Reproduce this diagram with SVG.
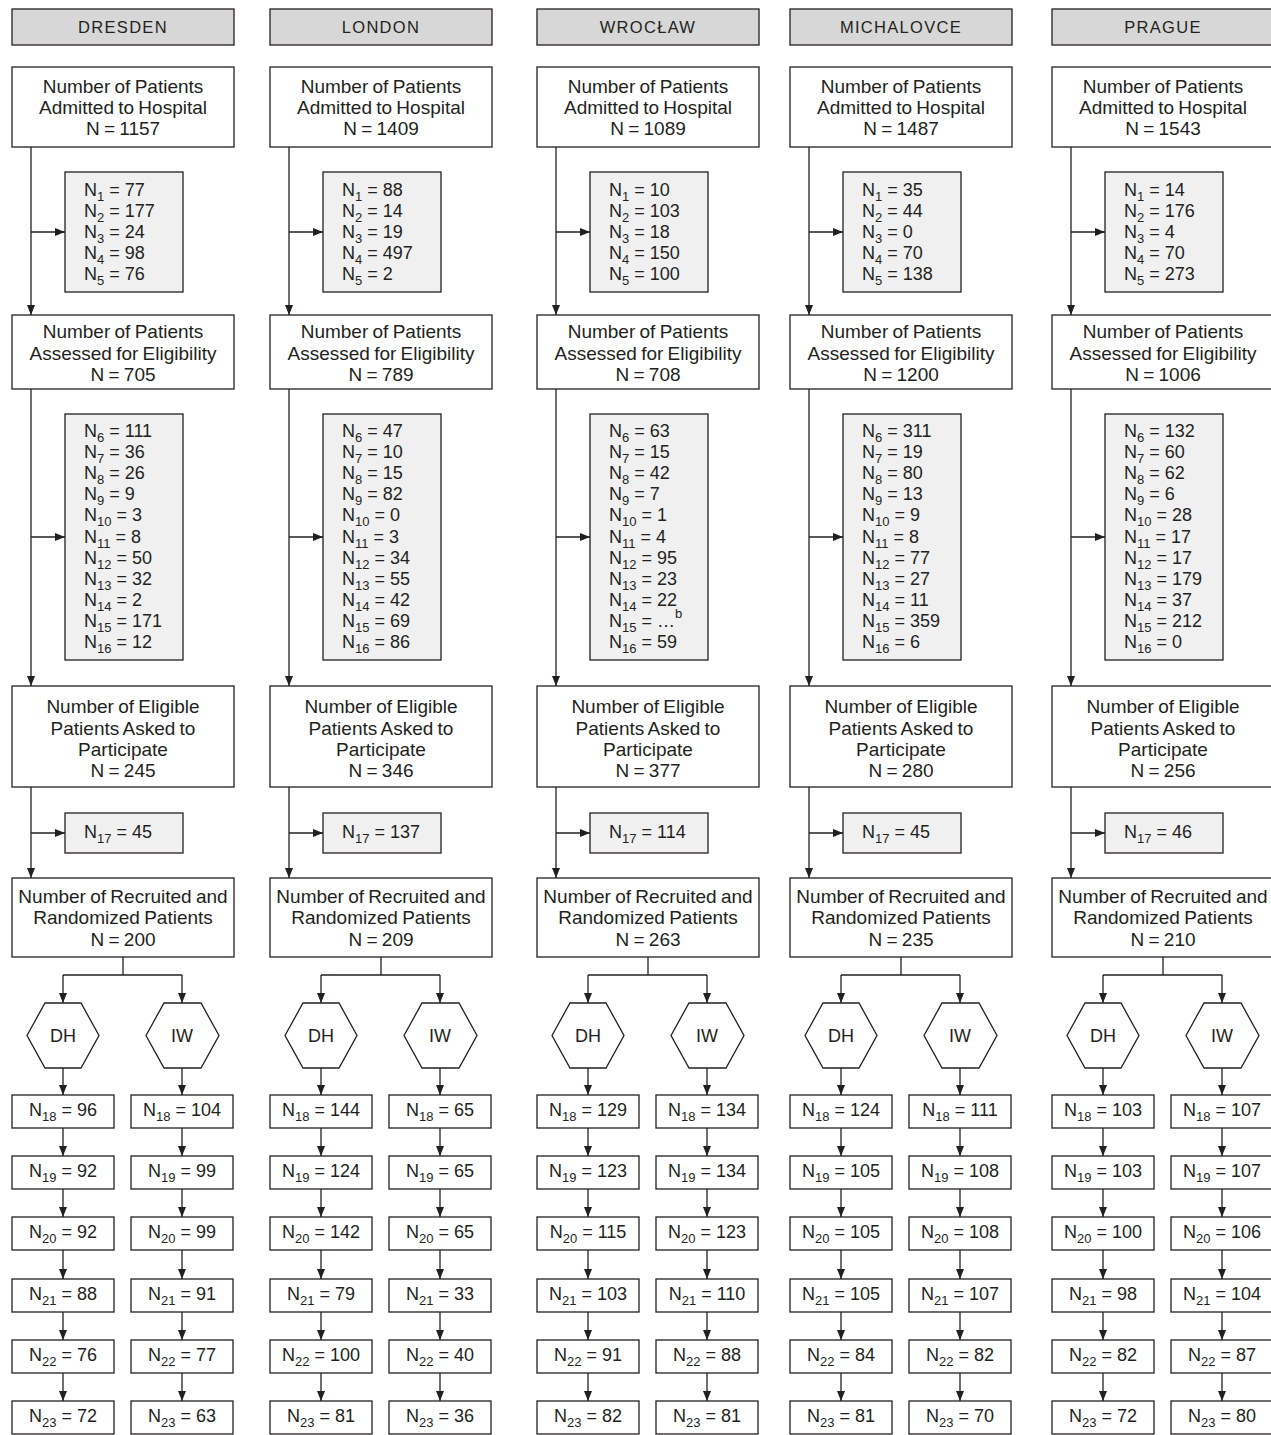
<svg xmlns="http://www.w3.org/2000/svg" width="1271" height="1435" viewBox="0 0 1271 1435">
<style>
text{font-family:"Liberation Sans",Arial,Helvetica,sans-serif;font-size:18px;fill:#231f20}
.c{text-anchor:middle}
.m{font-size:19px;word-spacing:-1px}
.h{font-size:16.5px;letter-spacing:1.3px}
.s{font-size:13px;letter-spacing:0}
rect,polygon{stroke:#231f20;stroke-width:1.3}
.hdr{fill:#d7d7d7}
.box{fill:#ffffff}
.exc{fill:#f0f0f0}
#connectors line,#connectors polyline{stroke:#231f20;stroke-width:1.3;fill:none}
.a{marker-end:url(#arr)}
</style>
<defs>
<marker id="arr" markerUnits="userSpaceOnUse" markerWidth="10" markerHeight="8" refX="10" refY="4" orient="auto">
<path d="M0,0 L10,4 L0,8 z" fill="#231f20"/>
</marker>
</defs>

<g id="connectors">
<g transform="translate(0,0)">
<line class="a" x1="31" y1="147" x2="31" y2="315"/><line class="a" x1="31" y1="232" x2="65" y2="232"/>
<line class="a" x1="31" y1="389" x2="31" y2="686"/><line class="a" x1="31" y1="537" x2="65" y2="537"/>
<line class="a" x1="31" y1="787" x2="31" y2="878"/><line class="a" x1="31" y1="833" x2="65" y2="833"/>
<polyline points="123,957 123,975"/><line x1="63" y1="975" x2="182" y2="975"/>
<line class="a" x1="63" y1="975" x2="63" y2="1003"/><line class="a" x1="182" y1="975" x2="182" y2="1003"/>
<line class="a" x1="63" y1="1068" x2="63" y2="1095"/><line class="a" x1="182" y1="1068" x2="182" y2="1095"/>
<line class="a" x1="63" y1="1128" x2="63" y2="1156"/><line class="a" x1="182" y1="1128" x2="182" y2="1156"/>
<line class="a" x1="63" y1="1189" x2="63" y2="1217"/><line class="a" x1="182" y1="1189" x2="182" y2="1217"/>
<line class="a" x1="63" y1="1250" x2="63" y2="1279"/><line class="a" x1="182" y1="1250" x2="182" y2="1279"/>
<line class="a" x1="63" y1="1312" x2="63" y2="1340"/><line class="a" x1="182" y1="1312" x2="182" y2="1340"/>
<line class="a" x1="63" y1="1373" x2="63" y2="1401"/><line class="a" x1="182" y1="1373" x2="182" y2="1401"/>
</g>
<g transform="translate(258,0)">
<line class="a" x1="31" y1="147" x2="31" y2="315"/><line class="a" x1="31" y1="232" x2="65" y2="232"/>
<line class="a" x1="31" y1="389" x2="31" y2="686"/><line class="a" x1="31" y1="537" x2="65" y2="537"/>
<line class="a" x1="31" y1="787" x2="31" y2="878"/><line class="a" x1="31" y1="833" x2="65" y2="833"/>
<polyline points="123,957 123,975"/><line x1="63" y1="975" x2="182" y2="975"/>
<line class="a" x1="63" y1="975" x2="63" y2="1003"/><line class="a" x1="182" y1="975" x2="182" y2="1003"/>
<line class="a" x1="63" y1="1068" x2="63" y2="1095"/><line class="a" x1="182" y1="1068" x2="182" y2="1095"/>
<line class="a" x1="63" y1="1128" x2="63" y2="1156"/><line class="a" x1="182" y1="1128" x2="182" y2="1156"/>
<line class="a" x1="63" y1="1189" x2="63" y2="1217"/><line class="a" x1="182" y1="1189" x2="182" y2="1217"/>
<line class="a" x1="63" y1="1250" x2="63" y2="1279"/><line class="a" x1="182" y1="1250" x2="182" y2="1279"/>
<line class="a" x1="63" y1="1312" x2="63" y2="1340"/><line class="a" x1="182" y1="1312" x2="182" y2="1340"/>
<line class="a" x1="63" y1="1373" x2="63" y2="1401"/><line class="a" x1="182" y1="1373" x2="182" y2="1401"/>
</g>
<g transform="translate(525,0)">
<line class="a" x1="31" y1="147" x2="31" y2="315"/><line class="a" x1="31" y1="232" x2="65" y2="232"/>
<line class="a" x1="31" y1="389" x2="31" y2="686"/><line class="a" x1="31" y1="537" x2="65" y2="537"/>
<line class="a" x1="31" y1="787" x2="31" y2="878"/><line class="a" x1="31" y1="833" x2="65" y2="833"/>
<polyline points="123,957 123,975"/><line x1="63" y1="975" x2="182" y2="975"/>
<line class="a" x1="63" y1="975" x2="63" y2="1003"/><line class="a" x1="182" y1="975" x2="182" y2="1003"/>
<line class="a" x1="63" y1="1068" x2="63" y2="1095"/><line class="a" x1="182" y1="1068" x2="182" y2="1095"/>
<line class="a" x1="63" y1="1128" x2="63" y2="1156"/><line class="a" x1="182" y1="1128" x2="182" y2="1156"/>
<line class="a" x1="63" y1="1189" x2="63" y2="1217"/><line class="a" x1="182" y1="1189" x2="182" y2="1217"/>
<line class="a" x1="63" y1="1250" x2="63" y2="1279"/><line class="a" x1="182" y1="1250" x2="182" y2="1279"/>
<line class="a" x1="63" y1="1312" x2="63" y2="1340"/><line class="a" x1="182" y1="1312" x2="182" y2="1340"/>
<line class="a" x1="63" y1="1373" x2="63" y2="1401"/><line class="a" x1="182" y1="1373" x2="182" y2="1401"/>
</g>
<g transform="translate(778,0)">
<line class="a" x1="31" y1="147" x2="31" y2="315"/><line class="a" x1="31" y1="232" x2="65" y2="232"/>
<line class="a" x1="31" y1="389" x2="31" y2="686"/><line class="a" x1="31" y1="537" x2="65" y2="537"/>
<line class="a" x1="31" y1="787" x2="31" y2="878"/><line class="a" x1="31" y1="833" x2="65" y2="833"/>
<polyline points="123,957 123,975"/><line x1="63" y1="975" x2="182" y2="975"/>
<line class="a" x1="63" y1="975" x2="63" y2="1003"/><line class="a" x1="182" y1="975" x2="182" y2="1003"/>
<line class="a" x1="63" y1="1068" x2="63" y2="1095"/><line class="a" x1="182" y1="1068" x2="182" y2="1095"/>
<line class="a" x1="63" y1="1128" x2="63" y2="1156"/><line class="a" x1="182" y1="1128" x2="182" y2="1156"/>
<line class="a" x1="63" y1="1189" x2="63" y2="1217"/><line class="a" x1="182" y1="1189" x2="182" y2="1217"/>
<line class="a" x1="63" y1="1250" x2="63" y2="1279"/><line class="a" x1="182" y1="1250" x2="182" y2="1279"/>
<line class="a" x1="63" y1="1312" x2="63" y2="1340"/><line class="a" x1="182" y1="1312" x2="182" y2="1340"/>
<line class="a" x1="63" y1="1373" x2="63" y2="1401"/><line class="a" x1="182" y1="1373" x2="182" y2="1401"/>
</g>
<g transform="translate(1040,0)">
<line class="a" x1="31" y1="147" x2="31" y2="315"/><line class="a" x1="31" y1="232" x2="65" y2="232"/>
<line class="a" x1="31" y1="389" x2="31" y2="686"/><line class="a" x1="31" y1="537" x2="65" y2="537"/>
<line class="a" x1="31" y1="787" x2="31" y2="878"/><line class="a" x1="31" y1="833" x2="65" y2="833"/>
<polyline points="123,957 123,975"/><line x1="63" y1="975" x2="182" y2="975"/>
<line class="a" x1="63" y1="975" x2="63" y2="1003"/><line class="a" x1="182" y1="975" x2="182" y2="1003"/>
<line class="a" x1="63" y1="1068" x2="63" y2="1095"/><line class="a" x1="182" y1="1068" x2="182" y2="1095"/>
<line class="a" x1="63" y1="1128" x2="63" y2="1156"/><line class="a" x1="182" y1="1128" x2="182" y2="1156"/>
<line class="a" x1="63" y1="1189" x2="63" y2="1217"/><line class="a" x1="182" y1="1189" x2="182" y2="1217"/>
<line class="a" x1="63" y1="1250" x2="63" y2="1279"/><line class="a" x1="182" y1="1250" x2="182" y2="1279"/>
<line class="a" x1="63" y1="1312" x2="63" y2="1340"/><line class="a" x1="182" y1="1312" x2="182" y2="1340"/>
<line class="a" x1="63" y1="1373" x2="63" y2="1401"/><line class="a" x1="182" y1="1373" x2="182" y2="1401"/>
</g>
</g>

<!-- DRESDEN -->
<g id="col-dresden" transform="translate(0,0)">
<g id="dresden-header"><rect class="hdr" x="12" y="9" width="222" height="36"/><text class="c h" x="123" y="33">DRESDEN</text></g>
<g id="dresden-admitted"><rect class="box" x="12" y="67" width="222" height="80"/><text class="c m" x="123" y="93">Number of Patients</text><text class="c m" x="123" y="114">Admitted to Hospital</text><text class="c m" x="123" y="135">N = 1157</text></g>
<g id="dresden-excl1"><rect class="exc" x="65" y="172" width="118" height="120"/>
<text x="84" y="196">N<tspan class="s" dy="5">1</tspan><tspan dy="-5"> = 77</tspan></text>
<text x="84" y="217">N<tspan class="s" dy="5">2</tspan><tspan dy="-5"> = 177</tspan></text>
<text x="84" y="238">N<tspan class="s" dy="5">3</tspan><tspan dy="-5"> = 24</tspan></text>
<text x="84" y="259">N<tspan class="s" dy="5">4</tspan><tspan dy="-5"> = 98</tspan></text>
<text x="84" y="280">N<tspan class="s" dy="5">5</tspan><tspan dy="-5"> = 76</tspan></text></g>
<g id="dresden-assessed"><rect class="box" x="12" y="315" width="222" height="74"/><text class="c m" x="123" y="338">Number of Patients</text><text class="c m" x="123" y="359.5">Assessed for Eligibility</text><text class="c m" x="123" y="381">N = 705</text></g>
<g id="dresden-excl2"><rect class="exc" x="65" y="414" width="118" height="246"/>
<text x="84" y="437">N<tspan class="s" dy="5">6</tspan><tspan dy="-5"> = 111</tspan></text>
<text x="84" y="458.1">N<tspan class="s" dy="5">7</tspan><tspan dy="-5"> = 36</tspan></text>
<text x="84" y="479.2">N<tspan class="s" dy="5">8</tspan><tspan dy="-5"> = 26</tspan></text>
<text x="84" y="500.3">N<tspan class="s" dy="5">9</tspan><tspan dy="-5"> = 9</tspan></text>
<text x="84" y="521.4">N<tspan class="s" dy="5">10</tspan><tspan dy="-5"> = 3</tspan></text>
<text x="84" y="542.5">N<tspan class="s" dy="5">11</tspan><tspan dy="-5"> = 8</tspan></text>
<text x="84" y="563.6">N<tspan class="s" dy="5">12</tspan><tspan dy="-5"> = 50</tspan></text>
<text x="84" y="584.7">N<tspan class="s" dy="5">13</tspan><tspan dy="-5"> = 32</tspan></text>
<text x="84" y="605.8">N<tspan class="s" dy="5">14</tspan><tspan dy="-5"> = 2</tspan></text>
<text x="84" y="626.9">N<tspan class="s" dy="5">15</tspan><tspan dy="-5"> = 171</tspan></text>
<text x="84" y="648">N<tspan class="s" dy="5">16</tspan><tspan dy="-5"> = 12</tspan></text></g>
<g id="dresden-asked"><rect class="box" x="12" y="686" width="222" height="101"/><text class="c m" x="123" y="713">Number of Eligible</text><text class="c m" x="123" y="734.5">Patients Asked to</text><text class="c m" x="123" y="756">Participate</text><text class="c m" x="123" y="777">N = 245</text></g>
<g id="dresden-excl3"><rect class="exc" x="65" y="813" width="118" height="40"/><text x="84" y="838">N<tspan class="s" dy="5">17</tspan><tspan dy="-5"> = 45</tspan></text></g>
<g id="dresden-randomized"><rect class="box" x="12" y="878" width="222" height="79"/><text class="c m" x="123" y="902.5">Number of Recruited and</text><text class="c m" x="123" y="924">Randomized Patients</text><text class="c m" x="123" y="946">N = 200</text></g>
<g id="dresden-dh"><polygon class="box" points="27,1035.5 45,1003 81,1003 99,1035.5 81,1068 45,1068"/><text class="c" x="63" y="1042">DH</text></g>
<g id="dresden-iw"><polygon class="box" points="146,1035.5 164,1003 201,1003 219,1035.5 201,1068 164,1068"/><text class="c" x="182" y="1042">IW</text></g>
<g id="dresden-dh-n18"><rect class="box" x="12" y="1095" width="102" height="33"/><text class="c" x="63" y="1116">N<tspan class="s" dy="5">18</tspan><tspan dy="-5"> = 96</tspan></text></g>
<g id="dresden-dh-n19"><rect class="box" x="12" y="1156" width="102" height="33"/><text class="c" x="63" y="1177">N<tspan class="s" dy="5">19</tspan><tspan dy="-5"> = 92</tspan></text></g>
<g id="dresden-dh-n20"><rect class="box" x="12" y="1217" width="102" height="33"/><text class="c" x="63" y="1238">N<tspan class="s" dy="5">20</tspan><tspan dy="-5"> = 92</tspan></text></g>
<g id="dresden-dh-n21"><rect class="box" x="12" y="1279" width="102" height="33"/><text class="c" x="63" y="1300">N<tspan class="s" dy="5">21</tspan><tspan dy="-5"> = 88</tspan></text></g>
<g id="dresden-dh-n22"><rect class="box" x="12" y="1340" width="102" height="33"/><text class="c" x="63" y="1361">N<tspan class="s" dy="5">22</tspan><tspan dy="-5"> = 76</tspan></text></g>
<g id="dresden-dh-n23"><rect class="box" x="12" y="1401" width="102" height="33"/><text class="c" x="63" y="1422">N<tspan class="s" dy="5">23</tspan><tspan dy="-5"> = 72</tspan></text></g>
<g id="dresden-iw-n18"><rect class="box" x="131" y="1095" width="102" height="33"/><text class="c" x="182" y="1116">N<tspan class="s" dy="5">18</tspan><tspan dy="-5"> = 104</tspan></text></g>
<g id="dresden-iw-n19"><rect class="box" x="131" y="1156" width="102" height="33"/><text class="c" x="182" y="1177">N<tspan class="s" dy="5">19</tspan><tspan dy="-5"> = 99</tspan></text></g>
<g id="dresden-iw-n20"><rect class="box" x="131" y="1217" width="102" height="33"/><text class="c" x="182" y="1238">N<tspan class="s" dy="5">20</tspan><tspan dy="-5"> = 99</tspan></text></g>
<g id="dresden-iw-n21"><rect class="box" x="131" y="1279" width="102" height="33"/><text class="c" x="182" y="1300">N<tspan class="s" dy="5">21</tspan><tspan dy="-5"> = 91</tspan></text></g>
<g id="dresden-iw-n22"><rect class="box" x="131" y="1340" width="102" height="33"/><text class="c" x="182" y="1361">N<tspan class="s" dy="5">22</tspan><tspan dy="-5"> = 77</tspan></text></g>
<g id="dresden-iw-n23"><rect class="box" x="131" y="1401" width="102" height="33"/><text class="c" x="182" y="1422">N<tspan class="s" dy="5">23</tspan><tspan dy="-5"> = 63</tspan></text></g>
</g>

<!-- LONDON -->
<g id="col-london" transform="translate(258,0)">
<g id="london-header"><rect class="hdr" x="12" y="9" width="222" height="36"/><text class="c h" x="123" y="33">LONDON</text></g>
<g id="london-admitted"><rect class="box" x="12" y="67" width="222" height="80"/><text class="c m" x="123" y="93">Number of Patients</text><text class="c m" x="123" y="114">Admitted to Hospital</text><text class="c m" x="123" y="135">N = 1409</text></g>
<g id="london-excl1"><rect class="exc" x="65" y="172" width="118" height="120"/>
<text x="84" y="196">N<tspan class="s" dy="5">1</tspan><tspan dy="-5"> = 88</tspan></text>
<text x="84" y="217">N<tspan class="s" dy="5">2</tspan><tspan dy="-5"> = 14</tspan></text>
<text x="84" y="238">N<tspan class="s" dy="5">3</tspan><tspan dy="-5"> = 19</tspan></text>
<text x="84" y="259">N<tspan class="s" dy="5">4</tspan><tspan dy="-5"> = 497</tspan></text>
<text x="84" y="280">N<tspan class="s" dy="5">5</tspan><tspan dy="-5"> = 2</tspan></text></g>
<g id="london-assessed"><rect class="box" x="12" y="315" width="222" height="74"/><text class="c m" x="123" y="338">Number of Patients</text><text class="c m" x="123" y="359.5">Assessed for Eligibility</text><text class="c m" x="123" y="381">N = 789</text></g>
<g id="london-excl2"><rect class="exc" x="65" y="414" width="118" height="246"/>
<text x="84" y="437">N<tspan class="s" dy="5">6</tspan><tspan dy="-5"> = 47</tspan></text>
<text x="84" y="458.1">N<tspan class="s" dy="5">7</tspan><tspan dy="-5"> = 10</tspan></text>
<text x="84" y="479.2">N<tspan class="s" dy="5">8</tspan><tspan dy="-5"> = 15</tspan></text>
<text x="84" y="500.3">N<tspan class="s" dy="5">9</tspan><tspan dy="-5"> = 82</tspan></text>
<text x="84" y="521.4">N<tspan class="s" dy="5">10</tspan><tspan dy="-5"> = 0</tspan></text>
<text x="84" y="542.5">N<tspan class="s" dy="5">11</tspan><tspan dy="-5"> = 3</tspan></text>
<text x="84" y="563.6">N<tspan class="s" dy="5">12</tspan><tspan dy="-5"> = 34</tspan></text>
<text x="84" y="584.7">N<tspan class="s" dy="5">13</tspan><tspan dy="-5"> = 55</tspan></text>
<text x="84" y="605.8">N<tspan class="s" dy="5">14</tspan><tspan dy="-5"> = 42</tspan></text>
<text x="84" y="626.9">N<tspan class="s" dy="5">15</tspan><tspan dy="-5"> = 69</tspan></text>
<text x="84" y="648">N<tspan class="s" dy="5">16</tspan><tspan dy="-5"> = 86</tspan></text></g>
<g id="london-asked"><rect class="box" x="12" y="686" width="222" height="101"/><text class="c m" x="123" y="713">Number of Eligible</text><text class="c m" x="123" y="734.5">Patients Asked to</text><text class="c m" x="123" y="756">Participate</text><text class="c m" x="123" y="777">N = 346</text></g>
<g id="london-excl3"><rect class="exc" x="65" y="813" width="118" height="40"/><text x="84" y="838">N<tspan class="s" dy="5">17</tspan><tspan dy="-5"> = 137</tspan></text></g>
<g id="london-randomized"><rect class="box" x="12" y="878" width="222" height="79"/><text class="c m" x="123" y="902.5">Number of Recruited and</text><text class="c m" x="123" y="924">Randomized Patients</text><text class="c m" x="123" y="946">N = 209</text></g>
<g id="london-dh"><polygon class="box" points="27,1035.5 45,1003 81,1003 99,1035.5 81,1068 45,1068"/><text class="c" x="63" y="1042">DH</text></g>
<g id="london-iw"><polygon class="box" points="146,1035.5 164,1003 201,1003 219,1035.5 201,1068 164,1068"/><text class="c" x="182" y="1042">IW</text></g>
<g id="london-dh-n18"><rect class="box" x="12" y="1095" width="102" height="33"/><text class="c" x="63" y="1116">N<tspan class="s" dy="5">18</tspan><tspan dy="-5"> = 144</tspan></text></g>
<g id="london-dh-n19"><rect class="box" x="12" y="1156" width="102" height="33"/><text class="c" x="63" y="1177">N<tspan class="s" dy="5">19</tspan><tspan dy="-5"> = 124</tspan></text></g>
<g id="london-dh-n20"><rect class="box" x="12" y="1217" width="102" height="33"/><text class="c" x="63" y="1238">N<tspan class="s" dy="5">20</tspan><tspan dy="-5"> = 142</tspan></text></g>
<g id="london-dh-n21"><rect class="box" x="12" y="1279" width="102" height="33"/><text class="c" x="63" y="1300">N<tspan class="s" dy="5">21</tspan><tspan dy="-5"> = 79</tspan></text></g>
<g id="london-dh-n22"><rect class="box" x="12" y="1340" width="102" height="33"/><text class="c" x="63" y="1361">N<tspan class="s" dy="5">22</tspan><tspan dy="-5"> = 100</tspan></text></g>
<g id="london-dh-n23"><rect class="box" x="12" y="1401" width="102" height="33"/><text class="c" x="63" y="1422">N<tspan class="s" dy="5">23</tspan><tspan dy="-5"> = 81</tspan></text></g>
<g id="london-iw-n18"><rect class="box" x="131" y="1095" width="102" height="33"/><text class="c" x="182" y="1116">N<tspan class="s" dy="5">18</tspan><tspan dy="-5"> = 65</tspan></text></g>
<g id="london-iw-n19"><rect class="box" x="131" y="1156" width="102" height="33"/><text class="c" x="182" y="1177">N<tspan class="s" dy="5">19</tspan><tspan dy="-5"> = 65</tspan></text></g>
<g id="london-iw-n20"><rect class="box" x="131" y="1217" width="102" height="33"/><text class="c" x="182" y="1238">N<tspan class="s" dy="5">20</tspan><tspan dy="-5"> = 65</tspan></text></g>
<g id="london-iw-n21"><rect class="box" x="131" y="1279" width="102" height="33"/><text class="c" x="182" y="1300">N<tspan class="s" dy="5">21</tspan><tspan dy="-5"> = 33</tspan></text></g>
<g id="london-iw-n22"><rect class="box" x="131" y="1340" width="102" height="33"/><text class="c" x="182" y="1361">N<tspan class="s" dy="5">22</tspan><tspan dy="-5"> = 40</tspan></text></g>
<g id="london-iw-n23"><rect class="box" x="131" y="1401" width="102" height="33"/><text class="c" x="182" y="1422">N<tspan class="s" dy="5">23</tspan><tspan dy="-5"> = 36</tspan></text></g>
</g>

<!-- WROCLAW -->
<g id="col-wroclaw" transform="translate(525,0)">
<g id="wroclaw-header"><rect class="hdr" x="12" y="9" width="222" height="36"/><text class="c h" x="123" y="33">WROCŁAW</text></g>
<g id="wroclaw-admitted"><rect class="box" x="12" y="67" width="222" height="80"/><text class="c m" x="123" y="93">Number of Patients</text><text class="c m" x="123" y="114">Admitted to Hospital</text><text class="c m" x="123" y="135">N = 1089</text></g>
<g id="wroclaw-excl1"><rect class="exc" x="65" y="172" width="118" height="120"/>
<text x="84" y="196">N<tspan class="s" dy="5">1</tspan><tspan dy="-5"> = 10</tspan></text>
<text x="84" y="217">N<tspan class="s" dy="5">2</tspan><tspan dy="-5"> = 103</tspan></text>
<text x="84" y="238">N<tspan class="s" dy="5">3</tspan><tspan dy="-5"> = 18</tspan></text>
<text x="84" y="259">N<tspan class="s" dy="5">4</tspan><tspan dy="-5"> = 150</tspan></text>
<text x="84" y="280">N<tspan class="s" dy="5">5</tspan><tspan dy="-5"> = 100</tspan></text></g>
<g id="wroclaw-assessed"><rect class="box" x="12" y="315" width="222" height="74"/><text class="c m" x="123" y="338">Number of Patients</text><text class="c m" x="123" y="359.5">Assessed for Eligibility</text><text class="c m" x="123" y="381">N = 708</text></g>
<g id="wroclaw-excl2"><rect class="exc" x="65" y="414" width="118" height="246"/>
<text x="84" y="437">N<tspan class="s" dy="5">6</tspan><tspan dy="-5"> = 63</tspan></text>
<text x="84" y="458.1">N<tspan class="s" dy="5">7</tspan><tspan dy="-5"> = 15</tspan></text>
<text x="84" y="479.2">N<tspan class="s" dy="5">8</tspan><tspan dy="-5"> = 42</tspan></text>
<text x="84" y="500.3">N<tspan class="s" dy="5">9</tspan><tspan dy="-5"> = 7</tspan></text>
<text x="84" y="521.4">N<tspan class="s" dy="5">10</tspan><tspan dy="-5"> = 1</tspan></text>
<text x="84" y="542.5">N<tspan class="s" dy="5">11</tspan><tspan dy="-5"> = 4</tspan></text>
<text x="84" y="563.6">N<tspan class="s" dy="5">12</tspan><tspan dy="-5"> = 95</tspan></text>
<text x="84" y="584.7">N<tspan class="s" dy="5">13</tspan><tspan dy="-5"> = 23</tspan></text>
<text x="84" y="605.8">N<tspan class="s" dy="5">14</tspan><tspan dy="-5"> = 22</tspan></text>
<text x="84" y="626.9">N<tspan class="s" dy="5">15</tspan><tspan dy="-5"> = …</tspan><tspan class="s" dy="-9">b</tspan></text>
<text x="84" y="648">N<tspan class="s" dy="5">16</tspan><tspan dy="-5"> = 59</tspan></text></g>
<g id="wroclaw-asked"><rect class="box" x="12" y="686" width="222" height="101"/><text class="c m" x="123" y="713">Number of Eligible</text><text class="c m" x="123" y="734.5">Patients Asked to</text><text class="c m" x="123" y="756">Participate</text><text class="c m" x="123" y="777">N = 377</text></g>
<g id="wroclaw-excl3"><rect class="exc" x="65" y="813" width="118" height="40"/><text x="84" y="838">N<tspan class="s" dy="5">17</tspan><tspan dy="-5"> = 114</tspan></text></g>
<g id="wroclaw-randomized"><rect class="box" x="12" y="878" width="222" height="79"/><text class="c m" x="123" y="902.5">Number of Recruited and</text><text class="c m" x="123" y="924">Randomized Patients</text><text class="c m" x="123" y="946">N = 263</text></g>
<g id="wroclaw-dh"><polygon class="box" points="27,1035.5 45,1003 81,1003 99,1035.5 81,1068 45,1068"/><text class="c" x="63" y="1042">DH</text></g>
<g id="wroclaw-iw"><polygon class="box" points="146,1035.5 164,1003 201,1003 219,1035.5 201,1068 164,1068"/><text class="c" x="182" y="1042">IW</text></g>
<g id="wroclaw-dh-n18"><rect class="box" x="12" y="1095" width="102" height="33"/><text class="c" x="63" y="1116">N<tspan class="s" dy="5">18</tspan><tspan dy="-5"> = 129</tspan></text></g>
<g id="wroclaw-dh-n19"><rect class="box" x="12" y="1156" width="102" height="33"/><text class="c" x="63" y="1177">N<tspan class="s" dy="5">19</tspan><tspan dy="-5"> = 123</tspan></text></g>
<g id="wroclaw-dh-n20"><rect class="box" x="12" y="1217" width="102" height="33"/><text class="c" x="63" y="1238">N<tspan class="s" dy="5">20</tspan><tspan dy="-5"> = 115</tspan></text></g>
<g id="wroclaw-dh-n21"><rect class="box" x="12" y="1279" width="102" height="33"/><text class="c" x="63" y="1300">N<tspan class="s" dy="5">21</tspan><tspan dy="-5"> = 103</tspan></text></g>
<g id="wroclaw-dh-n22"><rect class="box" x="12" y="1340" width="102" height="33"/><text class="c" x="63" y="1361">N<tspan class="s" dy="5">22</tspan><tspan dy="-5"> = 91</tspan></text></g>
<g id="wroclaw-dh-n23"><rect class="box" x="12" y="1401" width="102" height="33"/><text class="c" x="63" y="1422">N<tspan class="s" dy="5">23</tspan><tspan dy="-5"> = 82</tspan></text></g>
<g id="wroclaw-iw-n18"><rect class="box" x="131" y="1095" width="102" height="33"/><text class="c" x="182" y="1116">N<tspan class="s" dy="5">18</tspan><tspan dy="-5"> = 134</tspan></text></g>
<g id="wroclaw-iw-n19"><rect class="box" x="131" y="1156" width="102" height="33"/><text class="c" x="182" y="1177">N<tspan class="s" dy="5">19</tspan><tspan dy="-5"> = 134</tspan></text></g>
<g id="wroclaw-iw-n20"><rect class="box" x="131" y="1217" width="102" height="33"/><text class="c" x="182" y="1238">N<tspan class="s" dy="5">20</tspan><tspan dy="-5"> = 123</tspan></text></g>
<g id="wroclaw-iw-n21"><rect class="box" x="131" y="1279" width="102" height="33"/><text class="c" x="182" y="1300">N<tspan class="s" dy="5">21</tspan><tspan dy="-5"> = 110</tspan></text></g>
<g id="wroclaw-iw-n22"><rect class="box" x="131" y="1340" width="102" height="33"/><text class="c" x="182" y="1361">N<tspan class="s" dy="5">22</tspan><tspan dy="-5"> = 88</tspan></text></g>
<g id="wroclaw-iw-n23"><rect class="box" x="131" y="1401" width="102" height="33"/><text class="c" x="182" y="1422">N<tspan class="s" dy="5">23</tspan><tspan dy="-5"> = 81</tspan></text></g>
</g>

<!-- MICHALOVCE -->
<g id="col-michalovce" transform="translate(778,0)">
<g id="michalovce-header"><rect class="hdr" x="12" y="9" width="222" height="36"/><text class="c h" x="123" y="33">MICHALOVCE</text></g>
<g id="michalovce-admitted"><rect class="box" x="12" y="67" width="222" height="80"/><text class="c m" x="123" y="93">Number of Patients</text><text class="c m" x="123" y="114">Admitted to Hospital</text><text class="c m" x="123" y="135">N = 1487</text></g>
<g id="michalovce-excl1"><rect class="exc" x="65" y="172" width="118" height="120"/>
<text x="84" y="196">N<tspan class="s" dy="5">1</tspan><tspan dy="-5"> = 35</tspan></text>
<text x="84" y="217">N<tspan class="s" dy="5">2</tspan><tspan dy="-5"> = 44</tspan></text>
<text x="84" y="238">N<tspan class="s" dy="5">3</tspan><tspan dy="-5"> = 0</tspan></text>
<text x="84" y="259">N<tspan class="s" dy="5">4</tspan><tspan dy="-5"> = 70</tspan></text>
<text x="84" y="280">N<tspan class="s" dy="5">5</tspan><tspan dy="-5"> = 138</tspan></text></g>
<g id="michalovce-assessed"><rect class="box" x="12" y="315" width="222" height="74"/><text class="c m" x="123" y="338">Number of Patients</text><text class="c m" x="123" y="359.5">Assessed for Eligibility</text><text class="c m" x="123" y="381">N = 1200</text></g>
<g id="michalovce-excl2"><rect class="exc" x="65" y="414" width="118" height="246"/>
<text x="84" y="437">N<tspan class="s" dy="5">6</tspan><tspan dy="-5"> = 311</tspan></text>
<text x="84" y="458.1">N<tspan class="s" dy="5">7</tspan><tspan dy="-5"> = 19</tspan></text>
<text x="84" y="479.2">N<tspan class="s" dy="5">8</tspan><tspan dy="-5"> = 80</tspan></text>
<text x="84" y="500.3">N<tspan class="s" dy="5">9</tspan><tspan dy="-5"> = 13</tspan></text>
<text x="84" y="521.4">N<tspan class="s" dy="5">10</tspan><tspan dy="-5"> = 9</tspan></text>
<text x="84" y="542.5">N<tspan class="s" dy="5">11</tspan><tspan dy="-5"> = 8</tspan></text>
<text x="84" y="563.6">N<tspan class="s" dy="5">12</tspan><tspan dy="-5"> = 77</tspan></text>
<text x="84" y="584.7">N<tspan class="s" dy="5">13</tspan><tspan dy="-5"> = 27</tspan></text>
<text x="84" y="605.8">N<tspan class="s" dy="5">14</tspan><tspan dy="-5"> = 11</tspan></text>
<text x="84" y="626.9">N<tspan class="s" dy="5">15</tspan><tspan dy="-5"> = 359</tspan></text>
<text x="84" y="648">N<tspan class="s" dy="5">16</tspan><tspan dy="-5"> = 6</tspan></text></g>
<g id="michalovce-asked"><rect class="box" x="12" y="686" width="222" height="101"/><text class="c m" x="123" y="713">Number of Eligible</text><text class="c m" x="123" y="734.5">Patients Asked to</text><text class="c m" x="123" y="756">Participate</text><text class="c m" x="123" y="777">N = 280</text></g>
<g id="michalovce-excl3"><rect class="exc" x="65" y="813" width="118" height="40"/><text x="84" y="838">N<tspan class="s" dy="5">17</tspan><tspan dy="-5"> = 45</tspan></text></g>
<g id="michalovce-randomized"><rect class="box" x="12" y="878" width="222" height="79"/><text class="c m" x="123" y="902.5">Number of Recruited and</text><text class="c m" x="123" y="924">Randomized Patients</text><text class="c m" x="123" y="946">N = 235</text></g>
<g id="michalovce-dh"><polygon class="box" points="27,1035.5 45,1003 81,1003 99,1035.5 81,1068 45,1068"/><text class="c" x="63" y="1042">DH</text></g>
<g id="michalovce-iw"><polygon class="box" points="146,1035.5 164,1003 201,1003 219,1035.5 201,1068 164,1068"/><text class="c" x="182" y="1042">IW</text></g>
<g id="michalovce-dh-n18"><rect class="box" x="12" y="1095" width="102" height="33"/><text class="c" x="63" y="1116">N<tspan class="s" dy="5">18</tspan><tspan dy="-5"> = 124</tspan></text></g>
<g id="michalovce-dh-n19"><rect class="box" x="12" y="1156" width="102" height="33"/><text class="c" x="63" y="1177">N<tspan class="s" dy="5">19</tspan><tspan dy="-5"> = 105</tspan></text></g>
<g id="michalovce-dh-n20"><rect class="box" x="12" y="1217" width="102" height="33"/><text class="c" x="63" y="1238">N<tspan class="s" dy="5">20</tspan><tspan dy="-5"> = 105</tspan></text></g>
<g id="michalovce-dh-n21"><rect class="box" x="12" y="1279" width="102" height="33"/><text class="c" x="63" y="1300">N<tspan class="s" dy="5">21</tspan><tspan dy="-5"> = 105</tspan></text></g>
<g id="michalovce-dh-n22"><rect class="box" x="12" y="1340" width="102" height="33"/><text class="c" x="63" y="1361">N<tspan class="s" dy="5">22</tspan><tspan dy="-5"> = 84</tspan></text></g>
<g id="michalovce-dh-n23"><rect class="box" x="12" y="1401" width="102" height="33"/><text class="c" x="63" y="1422">N<tspan class="s" dy="5">23</tspan><tspan dy="-5"> = 81</tspan></text></g>
<g id="michalovce-iw-n18"><rect class="box" x="131" y="1095" width="102" height="33"/><text class="c" x="182" y="1116">N<tspan class="s" dy="5">18</tspan><tspan dy="-5"> = 111</tspan></text></g>
<g id="michalovce-iw-n19"><rect class="box" x="131" y="1156" width="102" height="33"/><text class="c" x="182" y="1177">N<tspan class="s" dy="5">19</tspan><tspan dy="-5"> = 108</tspan></text></g>
<g id="michalovce-iw-n20"><rect class="box" x="131" y="1217" width="102" height="33"/><text class="c" x="182" y="1238">N<tspan class="s" dy="5">20</tspan><tspan dy="-5"> = 108</tspan></text></g>
<g id="michalovce-iw-n21"><rect class="box" x="131" y="1279" width="102" height="33"/><text class="c" x="182" y="1300">N<tspan class="s" dy="5">21</tspan><tspan dy="-5"> = 107</tspan></text></g>
<g id="michalovce-iw-n22"><rect class="box" x="131" y="1340" width="102" height="33"/><text class="c" x="182" y="1361">N<tspan class="s" dy="5">22</tspan><tspan dy="-5"> = 82</tspan></text></g>
<g id="michalovce-iw-n23"><rect class="box" x="131" y="1401" width="102" height="33"/><text class="c" x="182" y="1422">N<tspan class="s" dy="5">23</tspan><tspan dy="-5"> = 70</tspan></text></g>
</g>

<!-- PRAGUE -->
<g id="col-prague" transform="translate(1040,0)">
<g id="prague-header"><rect class="hdr" x="12" y="9" width="222" height="36"/><text class="c h" x="123" y="33">PRAGUE</text></g>
<g id="prague-admitted"><rect class="box" x="12" y="67" width="222" height="80"/><text class="c m" x="123" y="93">Number of Patients</text><text class="c m" x="123" y="114">Admitted to Hospital</text><text class="c m" x="123" y="135">N = 1543</text></g>
<g id="prague-excl1"><rect class="exc" x="65" y="172" width="118" height="120"/>
<text x="84" y="196">N<tspan class="s" dy="5">1</tspan><tspan dy="-5"> = 14</tspan></text>
<text x="84" y="217">N<tspan class="s" dy="5">2</tspan><tspan dy="-5"> = 176</tspan></text>
<text x="84" y="238">N<tspan class="s" dy="5">3</tspan><tspan dy="-5"> = 4</tspan></text>
<text x="84" y="259">N<tspan class="s" dy="5">4</tspan><tspan dy="-5"> = 70</tspan></text>
<text x="84" y="280">N<tspan class="s" dy="5">5</tspan><tspan dy="-5"> = 273</tspan></text></g>
<g id="prague-assessed"><rect class="box" x="12" y="315" width="222" height="74"/><text class="c m" x="123" y="338">Number of Patients</text><text class="c m" x="123" y="359.5">Assessed for Eligibility</text><text class="c m" x="123" y="381">N = 1006</text></g>
<g id="prague-excl2"><rect class="exc" x="65" y="414" width="118" height="246"/>
<text x="84" y="437">N<tspan class="s" dy="5">6</tspan><tspan dy="-5"> = 132</tspan></text>
<text x="84" y="458.1">N<tspan class="s" dy="5">7</tspan><tspan dy="-5"> = 60</tspan></text>
<text x="84" y="479.2">N<tspan class="s" dy="5">8</tspan><tspan dy="-5"> = 62</tspan></text>
<text x="84" y="500.3">N<tspan class="s" dy="5">9</tspan><tspan dy="-5"> = 6</tspan></text>
<text x="84" y="521.4">N<tspan class="s" dy="5">10</tspan><tspan dy="-5"> = 28</tspan></text>
<text x="84" y="542.5">N<tspan class="s" dy="5">11</tspan><tspan dy="-5"> = 17</tspan></text>
<text x="84" y="563.6">N<tspan class="s" dy="5">12</tspan><tspan dy="-5"> = 17</tspan></text>
<text x="84" y="584.7">N<tspan class="s" dy="5">13</tspan><tspan dy="-5"> = 179</tspan></text>
<text x="84" y="605.8">N<tspan class="s" dy="5">14</tspan><tspan dy="-5"> = 37</tspan></text>
<text x="84" y="626.9">N<tspan class="s" dy="5">15</tspan><tspan dy="-5"> = 212</tspan></text>
<text x="84" y="648">N<tspan class="s" dy="5">16</tspan><tspan dy="-5"> = 0</tspan></text></g>
<g id="prague-asked"><rect class="box" x="12" y="686" width="222" height="101"/><text class="c m" x="123" y="713">Number of Eligible</text><text class="c m" x="123" y="734.5">Patients Asked to</text><text class="c m" x="123" y="756">Participate</text><text class="c m" x="123" y="777">N = 256</text></g>
<g id="prague-excl3"><rect class="exc" x="65" y="813" width="118" height="40"/><text x="84" y="838">N<tspan class="s" dy="5">17</tspan><tspan dy="-5"> = 46</tspan></text></g>
<g id="prague-randomized"><rect class="box" x="12" y="878" width="222" height="79"/><text class="c m" x="123" y="902.5">Number of Recruited and</text><text class="c m" x="123" y="924">Randomized Patients</text><text class="c m" x="123" y="946">N = 210</text></g>
<g id="prague-dh"><polygon class="box" points="27,1035.5 45,1003 81,1003 99,1035.5 81,1068 45,1068"/><text class="c" x="63" y="1042">DH</text></g>
<g id="prague-iw"><polygon class="box" points="146,1035.5 164,1003 201,1003 219,1035.5 201,1068 164,1068"/><text class="c" x="182" y="1042">IW</text></g>
<g id="prague-dh-n18"><rect class="box" x="12" y="1095" width="102" height="33"/><text class="c" x="63" y="1116">N<tspan class="s" dy="5">18</tspan><tspan dy="-5"> = 103</tspan></text></g>
<g id="prague-dh-n19"><rect class="box" x="12" y="1156" width="102" height="33"/><text class="c" x="63" y="1177">N<tspan class="s" dy="5">19</tspan><tspan dy="-5"> = 103</tspan></text></g>
<g id="prague-dh-n20"><rect class="box" x="12" y="1217" width="102" height="33"/><text class="c" x="63" y="1238">N<tspan class="s" dy="5">20</tspan><tspan dy="-5"> = 100</tspan></text></g>
<g id="prague-dh-n21"><rect class="box" x="12" y="1279" width="102" height="33"/><text class="c" x="63" y="1300">N<tspan class="s" dy="5">21</tspan><tspan dy="-5"> = 98</tspan></text></g>
<g id="prague-dh-n22"><rect class="box" x="12" y="1340" width="102" height="33"/><text class="c" x="63" y="1361">N<tspan class="s" dy="5">22</tspan><tspan dy="-5"> = 82</tspan></text></g>
<g id="prague-dh-n23"><rect class="box" x="12" y="1401" width="102" height="33"/><text class="c" x="63" y="1422">N<tspan class="s" dy="5">23</tspan><tspan dy="-5"> = 72</tspan></text></g>
<g id="prague-iw-n18"><rect class="box" x="131" y="1095" width="102" height="33"/><text class="c" x="182" y="1116">N<tspan class="s" dy="5">18</tspan><tspan dy="-5"> = 107</tspan></text></g>
<g id="prague-iw-n19"><rect class="box" x="131" y="1156" width="102" height="33"/><text class="c" x="182" y="1177">N<tspan class="s" dy="5">19</tspan><tspan dy="-5"> = 107</tspan></text></g>
<g id="prague-iw-n20"><rect class="box" x="131" y="1217" width="102" height="33"/><text class="c" x="182" y="1238">N<tspan class="s" dy="5">20</tspan><tspan dy="-5"> = 106</tspan></text></g>
<g id="prague-iw-n21"><rect class="box" x="131" y="1279" width="102" height="33"/><text class="c" x="182" y="1300">N<tspan class="s" dy="5">21</tspan><tspan dy="-5"> = 104</tspan></text></g>
<g id="prague-iw-n22"><rect class="box" x="131" y="1340" width="102" height="33"/><text class="c" x="182" y="1361">N<tspan class="s" dy="5">22</tspan><tspan dy="-5"> = 87</tspan></text></g>
<g id="prague-iw-n23"><rect class="box" x="131" y="1401" width="102" height="33"/><text class="c" x="182" y="1422">N<tspan class="s" dy="5">23</tspan><tspan dy="-5"> = 80</tspan></text></g>
</g>
</svg>
